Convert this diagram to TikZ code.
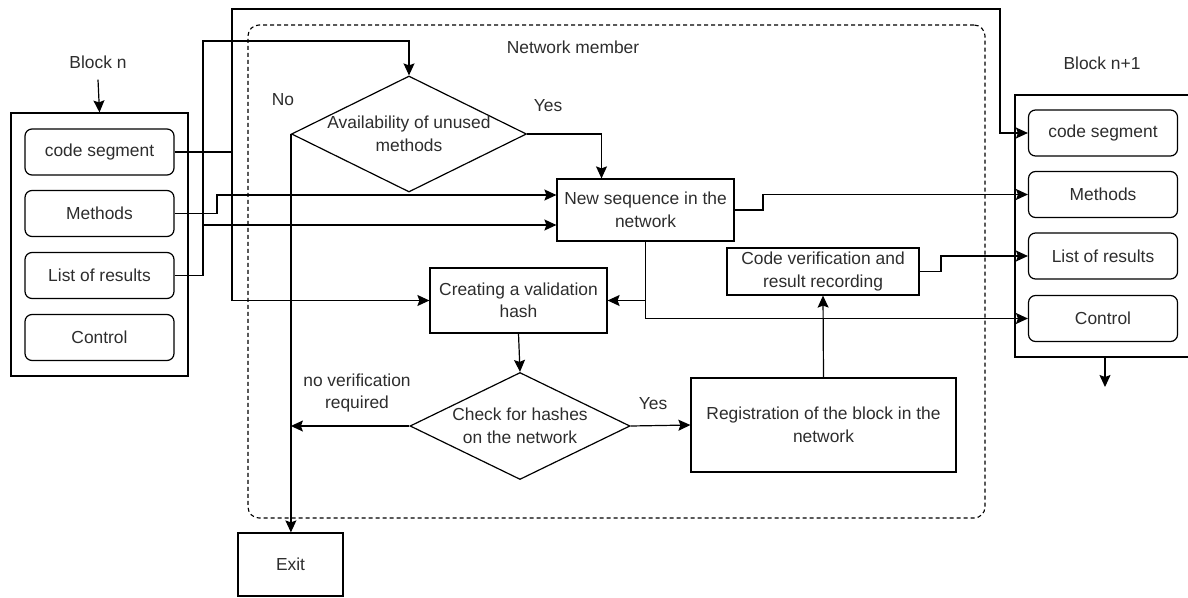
\documentclass[tikz,border=0pt]{standalone}
\usepackage{fontspec}
\setmainfont{Liberation Sans}
\usetikzlibrary{shapes.geometric,arrows.meta}
\definecolor{ink}{RGB}{45,45,45}
\tikzset{
  x=1pt, y=-1pt,
  every node/.style={font=\fontsize{17.4}{22.5}\selectfont, text=ink, align=center},
  line/.style={draw=black, line width=1.2pt},
  arr/.style={line, -{Stealth[length=12pt,width=11pt,inset=2pt]}},
  outerbox/.style={line, rectangle, inner sep=0pt},
  field/.style={line, rectangle, rounded corners=7pt, minimum width=149pt, minimum height=46pt, inner sep=0pt},
  procbox/.style={line, rectangle, inner sep=0pt},
  decision/.style={line, diamond, inner sep=0pt},
  plain/.style={inner sep=1pt},
}
\begin{document}
\begin{tikzpicture}
\useasboundingbox (0,0) rectangle (1188,597);

% network member frame
\node[draw=black, line width=1.1pt, dash pattern=on 4pt off 3pt, rounded corners=11pt,
      minimum width=737pt, minimum height=493pt, inner sep=0pt] (net) at (616.5,271.5) {};
\node[plain] (netlbl) at (573,47) {Network member};

% block n
\node[plain] (bn) at (98,62) {Block n};
\node[outerbox, minimum width=177pt, minimum height=263pt] (lblk) at (99.5,244.5) {};
\node[field] (lcs)  at (99.5,152)   {code segment};
\node[field] (lme)  at (99.5,213.5) {Methods};
\node[field] (lres) at (99.5,275.5) {List of results};
\node[field] (lctl) at (99.5,337.5) {Control};

% block n+1
\node[plain] (bn1) at (1102,63) {Block n+1};
\node[outerbox, minimum width=180pt, minimum height=262pt] (rblk) at (1105,226) {};
\node[field] (rcs)  at (1103,133)   {code segment};
\node[field] (rme)  at (1103,194.5) {Methods};
\node[field] (rres) at (1103,256)   {List of results};
\node[field] (rctl) at (1103,318.5) {Control};
\coordinate (rout) at (1105,387);

% process steps
\node[decision, minimum width=235pt, minimum height=116pt] (avail) at (409,134) {};
\node[plain] (availtxt) at (avail.center) {Availability of unused\\methods};
\node[procbox, minimum width=177pt, minimum height=62pt] (newseq) at (645.5,210) {New sequence in the\\network};
\node[procbox, minimum width=177pt, minimum height=65pt] (hash) at (518.5,300.5) {Creating a validation\\hash};
\node[decision, minimum width=220pt, minimum height=107pt] (check) at (520,426) {};
\node[plain] (checktxt) at (check.center) {Check for hashes\\on the network};
\node[procbox, minimum width=265pt, minimum height=94pt] (reg) at (823.5,425) {Registration of the block in the\\network};
\node[procbox, minimum width=192pt, minimum height=47pt] (codever) at (823,271.5) {Code verification and\\result recording};
\node[procbox, minimum width=105pt, minimum height=63pt] (exit) at (290.5,564.5) {Exit};

% branch labels
\node[plain] (nolbl)  at (283,100) {No};
\node[plain] (yes1)   at (548,106) {Yes};
\node[plain] (novlbl) at (357,393) {no verification\\required};
\node[plain] (yes2)   at (653,404) {Yes};

% entry arrows of the blocks
\draw[arr] ([yshift=-10pt]bn.south) -- (lblk.north);
\draw[arr] (rblk.south) -- (rout);

% code segment of block n
\coordinate (j1) at (232,152);
\draw[line] (lcs.east) -- (j1);
\draw[arr] (j1) |- (hash.west);
\draw[arr] (j1) -- (232,9) -| (1000,133) -- (rcs.west);

% methods of block n
\draw[arr] (lme.east) -- (217,213.5) |- ([yshift=15pt]newseq.west);

% list of results of block n
\coordinate (j2) at (203,275.5);
\draw[line] (lres.east) -- (j2);
\draw[arr] (j2) |- (409,41) -- (avail.north);
\draw[arr] (203,225) -- ([yshift=-15pt]newseq.west);

% decision on unused methods
\draw[arr] (avail.east) -| ([xshift=-44pt]newseq.north);
\draw[arr] (avail.west) -- (avail.west |- exit.north);

% new sequence outputs
\draw[arr] (newseq.east) -- (763,210) |- (rme.west);
\draw[arr] (newseq.south) |- (rctl.west);
\draw[arr] (newseq.south |- hash.east) -- (hash.east);

% validation and registration
\draw[arr] (hash.south) -- (check.north);
\draw[arr] (check.west) -- (check.west -| avail.west);
\draw[arr] (check.east) -- (reg.west);
\draw[arr] (reg.north) -- (codever.south);
\draw[arr] (codever.east) -- (941,271.5) |- (rres.west);
\end{tikzpicture}
\end{document}
